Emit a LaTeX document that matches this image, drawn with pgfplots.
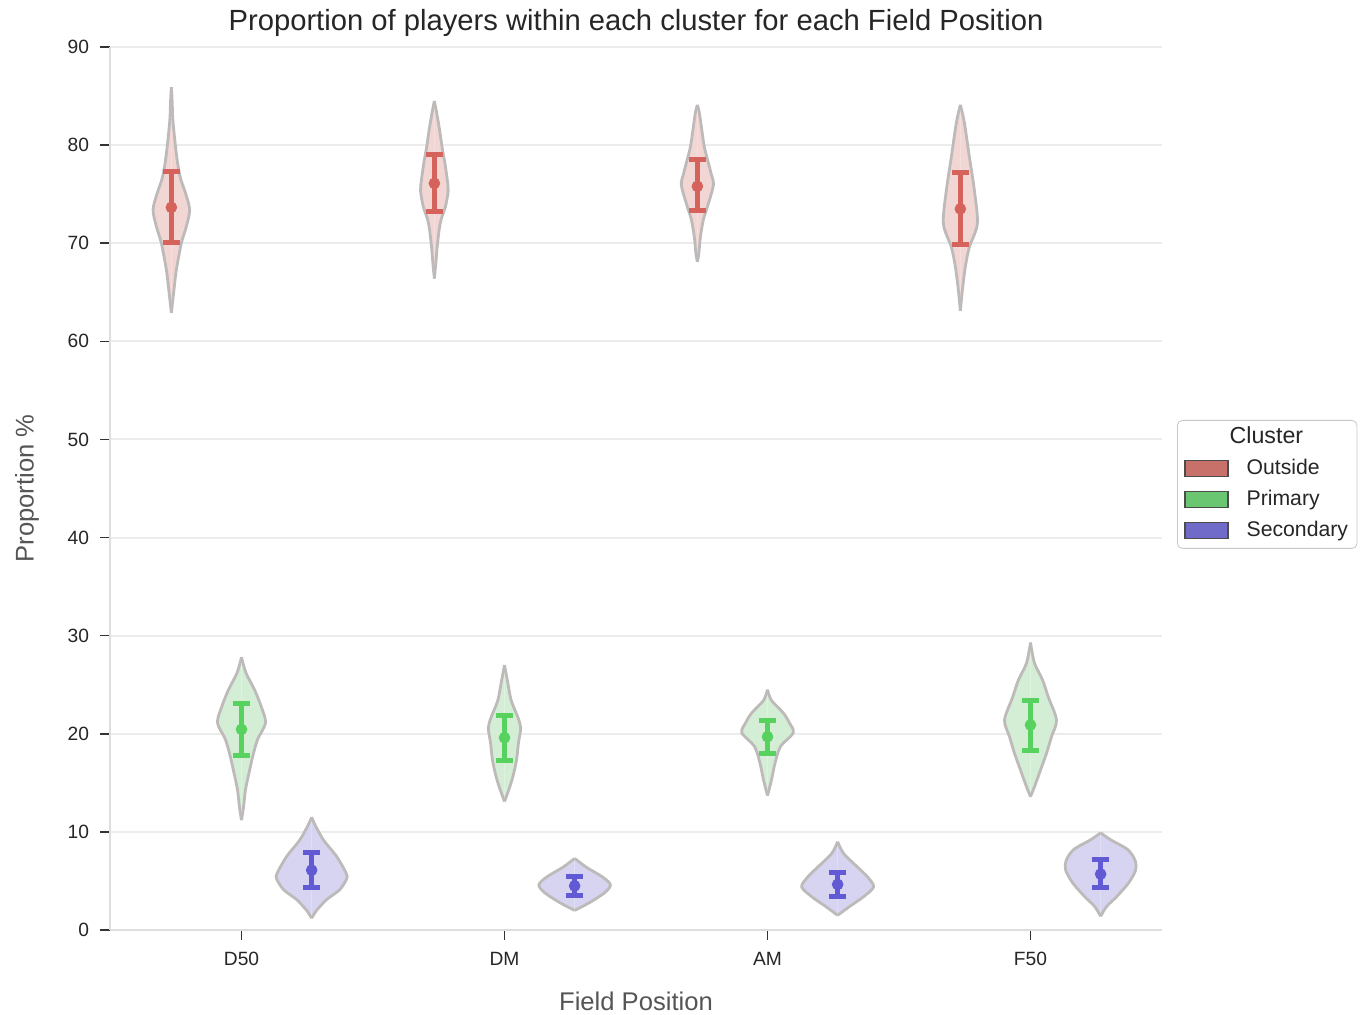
\documentclass[border=0pt]{standalone}
\usepackage{fontspec}
\setmainfont{Liberation Sans}
\usepackage{pgfplots}
\pgfplotsset{compat=1.18}
\usepackage{pgfplotstable}

\definecolor{cO}{RGB}{214,98,92}
\definecolor{cP}{RGB}{87,210,95}
\definecolor{cS}{RGB}{97,90,212}
\definecolor{dO}{RGB}{200,112,106}
\definecolor{dP}{RGB}{106,198,112}
\definecolor{dS}{RGB}{112,106,200}
\definecolor{fO}{RGB}{241,214,212}
\definecolor{fP}{RGB}{212,238,214}
\definecolor{fS}{RGB}{214,212,240}
\definecolor{edgec}{RGB}{190,186,186}
\definecolor{gridc}{RGB}{236,236,236}
\definecolor{spine}{RGB}{222,222,222}
\definecolor{txt}{RGB}{38,38,38}
\definecolor{lab}{RGB}{85,85,85}

% violin profiles: y  half-width (px of the reference, 263 px = 1 category unit)
\pgfplotstableread{
y w
62.9 0
64 1.2
65.6 3
67.3 5
70 10
71.7 15
73.4 18.3
75 14.5
76.5 9.5
78 6.5
80 4
82.6 1.5
84.5 0.8
85.9 0
}\vDO
\pgfplotstableread{
y w
11.2 0
12.5 2
14.3 4
16 7.5
17.6 11
19.4 16
21.1 24
22.7 20
24.5 13
26.2 4.5
27.8 0
}\vDP
\pgfplotstableread{
y w
1.2 0
2.0 5
3.1 15
4.1 28
5.2 35
5.8 34.5
7.5 25
9.2 11.7
10.8 3
11.5 0
}\vDS
\pgfplotstableread{
y w
66.4 0
68 1.5
69.6 2.8
71.3 4.7
72.4 6.7
73.7 11
75.3 13.8
76.4 13
78.2 10.5
79.8 7.7
81.5 5.3
83.3 2.3
84.5 0
}\vMO
\pgfplotstableread{
y w
13.1 0
14.3 4.3
15.6 8.3
17.3 12
19.1 14
20.6 16.2
21.7 13.3
23.4 6.7
25.2 3.3
27.0 0
}\vMP
\pgfplotstableread{
y w
2.0 0
2.8 15
3.8 30
4.6 35.8
5.4 28
6.4 11.7
7.3 0
}\vMS
\pgfplotstableread{
y w
68.1 0
69 1.5
70.6 3
72.4 6
73.7 10
75.9 16
77 14
78.2 11
79.8 7
81.5 4.5
83.3 2
84.1 0
}\vAO
\pgfplotstableread{
y w
13.7 0
15.3 4
17 7.5
18.7 13
20.1 25.7
21.1 22
22.1 16
23.4 4
24.5 0
}\vAP
\pgfplotstableread{
y w
1.5 0
2.4 12
3.4 26
4.4 36
5.4 30
6.4 20
7.8 6
9.0 0
}\vAS
\pgfplotstableread{
y w
63.1 0
65.2 2
67.6 5
69.6 9
72 17
75.4 14
78.8 9
82.3 4
84.1 0
}\vFO
\pgfplotstableread{
y w
13.6 0
14.6 4
16.3 10
18 16
19.7 21
21.4 26
23.7 18
25.5 12
27.2 4
29.3 0
}\vFP
\pgfplotstableread{
y w
1.4 0
2.4 6
3.4 16
4.8 28
6.1 35
7.1 34.5
8.2 27
9.2 10
9.9 0
}\vFS

% point estimates with error bars
\pgfplotstableread{
x y em ep
-0.2667 73.65 3.55 3.65
0.7333 76.1 2.9 2.9
1.7333 75.8 2.5 2.7
2.7333 73.5 3.6 3.7
}\eO
\pgfplotstableread{
x y em ep
0 20.45 2.65 2.65
1 19.6 2.3 2.3
2 19.7 1.7 1.7
3 20.9 2.6 2.5
}\eP
\pgfplotstableread{
x y em ep
0.2667 6.1 1.75 1.8
1.2667 4.5 0.95 0.95
2.2667 4.65 1.2 1.2
3.2667 5.7 1.4 1.5
}\eS

\newcommand{\violin}[3]{%
  \addplot[forget plot, fill=#3, draw=none, smooth]
    table[x expr={#1+\thisrow{w}*0.0038}, y=y]{#2} -- cycle;
  \addplot[forget plot, fill=#3, draw=none, smooth]
    table[x expr={#1-\thisrow{w}*0.0038}, y=y]{#2} -- cycle;
  \addplot[forget plot, draw=edgec, line width=1.4pt, smooth]
    table[x expr={#1+\thisrow{w}*0.0038}, y=y]{#2};
  \addplot[forget plot, draw=edgec, line width=1.4pt, smooth]
    table[x expr={#1-\thisrow{w}*0.0038}, y=y]{#2};
}
\newcommand{\errs}[2]{%
  \addplot[forget plot, only marks, mark=*, mark size=2.7pt, color=#2,
    error bars/.cd, y dir=both, y explicit,
    error bar style={line width=2.5pt, color=#2},
    error mark options={rotate=90, mark size=4.4pt, line width=2.5pt, color=#2}]
    table[x=x, y=y, y error minus=em, y error plus=ep]{#1};
}

\begin{document}
\begin{tikzpicture}
\path[use as bounding box] (-55pt,-42pt) rectangle (626.5pt,465pt);
\begin{axis}[
  at={(0,0)}, anchor=south west,
  scale only axis, width=526pt, height=441.5pt,
  xmin=-0.5, xmax=3.5, ymin=0, ymax=90,
  xtick={0,1,2,3}, xticklabels={D50,DM,AM,F50},
  ytick={0,10,...,90},
  /pgf/number format/assume math mode=true,
  axis x line*=bottom, axis y line*=left,
  axis line style={draw=spine, line width=1.25pt},
  ymajorgrids, major grid style={draw=gridc, line width=1pt},
  tick align=outside, major tick length=5pt,
  tick style={draw=black!80, line width=0.8pt},
  ticklabel style={font=\fontsize{9.6}{11}\selectfont, text=txt},
  xticklabel style={yshift=-2.5pt},
  yticklabel style={xshift=-2pt},
  title={Proportion of players within each cluster for each Field Position},
  title style={font=\fontsize{14.6}{17}\selectfont, text=txt, inner sep=1pt, at={(axis description cs:0.5,1)}, anchor=south, yshift=-2pt},
  xlabel={Field Position}, ylabel={Proportion \%},
  label style={font=\fontsize{12.8}{15}\selectfont, text=lab, inner sep=1pt},
  xlabel style={at={(axis description cs:0.5,-0.0805)}, anchor=center},
  ylabel style={at={(axis description cs:-0.079,0.5)}, anchor=center},
  legend cell align=left,
  legend style={at={(axis description cs:1.0143,0.5776)}, anchor=north west,
    draw=black!22, rounded corners=2.5pt, fill=white, text=txt,
    font=\fontsize{10.6}{12}\selectfont,
    inner xsep=3.5pt, inner ysep=2.5pt, row sep=3pt, column sep=8pt,
    nodes={inner sep=1pt, text height=8pt, text depth=2.5pt}},
]
\addlegendimage{empty legend}
\addlegendentry{\hspace*{-8.5pt}\fontsize{11.6}{13}\selectfont Cluster}
\addlegendimage{legend image code/.code={\draw[sharp corners, fill=dO, draw=black!70, line width=0.6pt] (0pt,-4pt) rectangle (21.5pt,4pt);}}
\addlegendentry{Outside}
\addlegendimage{legend image code/.code={\draw[sharp corners, fill=dP, draw=black!70, line width=0.6pt] (0pt,-4pt) rectangle (21.5pt,4pt);}}
\addlegendentry{Primary}
\addlegendimage{legend image code/.code={\draw[sharp corners, fill=dS, draw=black!70, line width=0.6pt] (0pt,-4pt) rectangle (21.5pt,4pt);}}
\addlegendentry{Secondary}

\violin{-0.2667}{\vDO}{fO}
\violin{0}{\vDP}{fP}
\violin{0.2667}{\vDS}{fS}
\violin{0.7333}{\vMO}{fO}
\violin{1}{\vMP}{fP}
\violin{1.2667}{\vMS}{fS}
\violin{1.7333}{\vAO}{fO}
\violin{2}{\vAP}{fP}
\violin{2.2667}{\vAS}{fS}
\violin{2.7333}{\vFO}{fO}
\violin{3}{\vFP}{fP}
\violin{3.2667}{\vFS}{fS}

\errs{\eO}{cO}
\errs{\eP}{cP}
\errs{\eS}{cS}
\end{axis}
\end{tikzpicture}
\end{document}
